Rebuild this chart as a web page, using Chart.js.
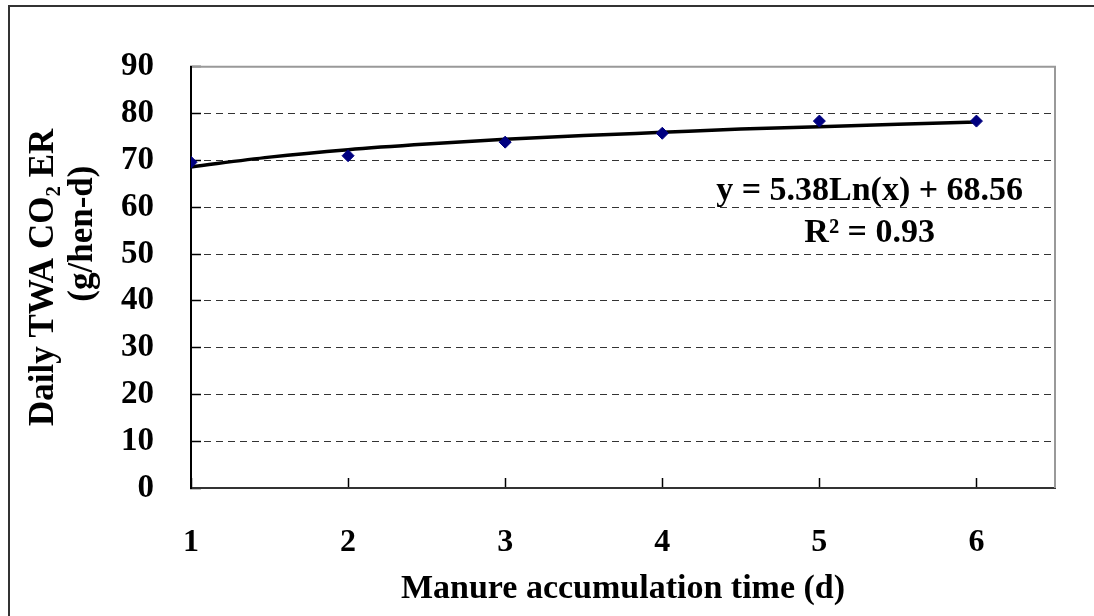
<!DOCTYPE html>
<html><head><meta charset="utf-8">
<script src="https://cdn.jsdelivr.net/npm/chart.js@4.4.0/dist/chart.umd.min.js"></script>
<style>html,body{margin:0;padding:0;background:#fff;}#wrap{width:1094px;height:616px;}</style>
</head><body><div id="wrap"><canvas id="c" width="1094" height="616"></canvas></div>
<script>
// ---- data ----
const days = [1, 2, 3, 4, 5, 6];
const co2Rate = [69.6, 71.0, 73.9, 75.8, 78.4, 78.4];
const trendDays = [1, 1.5, 2, 2.5, 3, 3.5, 4, 4.5, 5, 5.5, 6];
const trendRate = [68.6, 70.7, 72.3, 73.5, 74.5, 75.3, 76.0, 76.7, 77.2, 77.7, 78.2];
const xTickValues = [1, 2, 3, 4, 5, 6];
const yTickValues = [0, 10, 20, 30, 40, 50, 60, 70, 80, 90];
const xAxisTitle = 'Manure accumulation time (d)';
const yAxisTitle = ['Daily TWA CO\u2082 ER', '          (g/hen-d)'];
const equationText = 'y = 5.38Ln(x) + 68.56';
const r2Text = 'R\u00B2 = 0.93';

const SERIF = '"Liberation Serif", "Times New Roman", serif';

const framePlugin = {
  id: 'frame',
  beforeDraw(chart) {
    const ctx = chart.ctx;
    ctx.save();
    ctx.fillStyle = '#fff';
    ctx.fillRect(0, 0, chart.width, chart.height);
    ctx.strokeStyle = '#333';
    ctx.lineWidth = 2;
    ctx.beginPath();
    ctx.moveTo(9, chart.height);
    ctx.lineTo(9, 6);
    ctx.lineTo(chart.width, 6);
    ctx.stroke();
    ctx.restore();
  },
  beforeDatasetsDraw(chart) {
    const {left, top, right, bottom} = chart.chartArea;
    const ctx = chart.ctx;
    ctx.save();
    ctx.strokeStyle = '#999';
    ctx.lineWidth = 2;
    ctx.beginPath();
    ctx.moveTo(left + 1, top);
    ctx.lineTo(right, top);
    ctx.lineTo(right, bottom);
    ctx.stroke();
    ctx.restore();
  },
  afterDatasetsDraw(chart) {
    const ctx = chart.ctx;
    const xs = chart.scales.x, ys = chart.scales.y;
    ctx.save();
    ctx.fillStyle = '#000';
    ctx.font = 'bold 34px ' + SERIF;
    ctx.textAlign = 'center';
    ctx.textBaseline = 'middle';
    const cx = xs.getPixelForValue(5.32);
    ctx.fillText(equationText, cx, ys.getPixelForValue(63.5));
    ctx.fillText(r2Text, cx, ys.getPixelForValue(54.4));
    ctx.restore();
  }
};

new Chart(document.getElementById('c'), {
  type: 'scatter',
  data: {
    datasets: [
      {
        label: 'CO2 ER',
        data: days.map((d, i) => ({x: d, y: co2Rate[i]})),
        pointStyle: 'rectRot',
        pointRadius: 6,
        pointHoverRadius: 6,
        backgroundColor: '#000080',
        borderColor: '#000080',
        borderWidth: 1,
        order: 1
      },
      {
        type: 'line',
        label: 'Log trend',
        data: trendDays.map((d, i) => ({x: d, y: trendRate[i]})),
        borderColor: '#000',
        borderWidth: 3.5,
        pointRadius: 0,
        cubicInterpolationMode: 'monotone',
        fill: false,
        order: 2
      }
    ]
  },
  options: {
    responsive: false,
    animation: false,
    devicePixelRatio: 1,
    layout: {padding: {top: 53, right: 39, bottom: 0, left: 0}},
    plugins: {legend: {display: false}, tooltip: {enabled: false}},
    scales: {
      x: {
        type: 'linear',
        min: 1, max: 6.5,
        afterFit: s => { s.height = 128; },
        afterBuildTicks: s => { s.ticks = xTickValues.map(v => ({value: v})); },
        grid: {drawOnChartArea: false, drawTicks: true, tickLength: -10, tickColor: '#000', tickWidth: 1.5},
        border: {display: true, color: '#333', width: 2},
        ticks: {color: '#000', font: {family: SERIF, size: 32, weight: 'bold'}, padding: 46, maxRotation: 0},
        title: {display: true, text: xAxisTitle, color: '#000', font: {family: SERIF, size: 34, weight: 'bold'}, padding: {top: 0, bottom: 6}}
      },
      y: {
        min: 0, max: 90,
        afterFit: s => { s.width = 191; },
        afterBuildTicks: s => { s.ticks = yTickValues.map(v => ({value: v})); },
        grid: {
          drawOnChartArea: true, drawTicks: true, tickLength: -10,
          color: c => (c.tick && (c.tick.value === 90 || c.tick.value === 0)) ? 'rgba(0,0,0,0)' : '#333',
          lineWidth: 1, tickColor: '#000', tickWidth: 1.5, tickBorderDash: []
        },
        border: {display: true, color: '#000', width: 2, dash: [7, 5]},
        ticks: {color: '#000', font: {family: SERIF, size: 33, weight: 'bold'}, padding: 47},
        title: {display: true, text: yAxisTitle, color: '#000', font: {family: SERIF, size: 35, weight: 'bold', lineHeight: 1.1}, padding: {top: 25, bottom: 0}}
      }
    }
  },
  plugins: [framePlugin]
});
</script></body></html>
